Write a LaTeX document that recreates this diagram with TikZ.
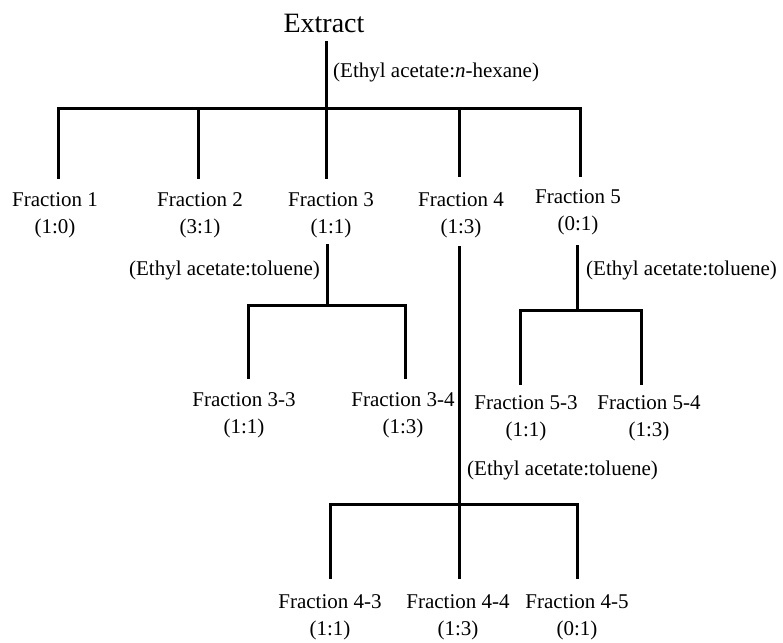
\documentclass[tikz,border=0pt]{standalone}
\usepackage{fontspec}
\setmainfont{Liberation Serif}
\begin{document}
\begin{tikzpicture}[x=1pt,y=-1pt,
  lbl/.style={inner sep=0pt,align=center,font=\fontsize{21}{27}\selectfont},
  solv/.style={inner sep=0pt,font=\fontsize{21}{27}\selectfont},
  branch/.style={line width=3pt,line join=miter,line cap=rect}]
\useasboundingbox (0,0) rectangle (783,642);
% texts
\node[inner sep=0pt,font=\fontsize{28}{32}\selectfont] (ext) at (324,23) {Extract};
\node[solv,anchor=west] (s0) at (333,72) {(Ethyl acetate:\textit{n}-hexane)};
\node[lbl] (f1) at (55,215.5) {Fraction 1\\(1:0)};
\node[lbl] (f2) at (200,215.5) {Fraction 2\\(3:1)};
\node[lbl] (f3) at (331,215.5) {Fraction 3\\(1:1)};
\node[lbl] (f4) at (461,215.5) {Fraction 4\\(1:3)};
\node[lbl] (f5) at (578,212.5) {Fraction 5\\(0:1)};
\node[solv,anchor=east] (s3) at (320,270) {(Ethyl acetate:toluene)};
\node[solv,anchor=west] (s5) at (586,270) {(Ethyl acetate:toluene)};
\node[lbl] (f33) at (244,415.5) {Fraction 3-3\\(1:1)};
\node[lbl] (f34) at (403,415.5) {Fraction 3-4\\(1:3)};
\node[lbl] (f53) at (526,418.5) {Fraction 5-3\\(1:1)};
\node[lbl] (f54) at (649,418.5) {Fraction 5-4\\(1:3)};
\node[solv,anchor=west] (s4) at (467,470) {(Ethyl acetate:toluene)};
\node[lbl] (f43) at (330,617.5) {Fraction 4-3\\(1:1)};
\node[lbl] (f44) at (458,617.5) {Fraction 4-4\\(1:3)};
\node[lbl] (f45) at (577,617.5) {Fraction 4-5\\(0:1)};
% coordinates
\coordinate (t0) at (326,43);  \coordinate (j0) at (326,108);
\coordinate (a1) at (58,108);  \coordinate (d1) at (58,177);
\coordinate (a2) at (198,108); \coordinate (d2) at (198,177);
\coordinate (d3) at (326,177);
\coordinate (a4) at (459,108); \coordinate (d4) at (459,175);
\coordinate (a5) at (580,108); \coordinate (d5) at (580,175);
\coordinate (t3) at (327,245); \coordinate (j3) at (327,305);
\coordinate (d33) at (248,377); \coordinate (d34) at (405,377);
\coordinate (t5) at (577,246); \coordinate (j5) at (577,310);
\coordinate (d53) at (520,383); \coordinate (d54) at (641,383);
\coordinate (t4) at (459,247); \coordinate (j4) at (459,504);
\coordinate (d43) at (330,577); \coordinate (d44) at (459,577); \coordinate (d45) at (577,577);
% level 1
\draw[branch] (t0) -- (j0);
\draw[branch] (d1) -- (a1) -- (a5) -- (d5);
\draw[branch] (a2) -- (d2);
\draw[branch] (j0) -- (d3);
\draw[branch] (a4) -- (d4);
% fraction 3
\draw[branch] (t3) -- (j3);
\draw[branch] (d33) |- (j3) -| (d34);
% fraction 5
\draw[branch] (t5) -- (j5);
\draw[branch] (d53) |- (j5) -| (d54);
% fraction 4
\draw[branch] (t4) -- (j4);
\draw[branch] (d43) |- (j4) -| (d45);
\draw[branch] (j4) -- (d44);
\end{tikzpicture}
\end{document}
